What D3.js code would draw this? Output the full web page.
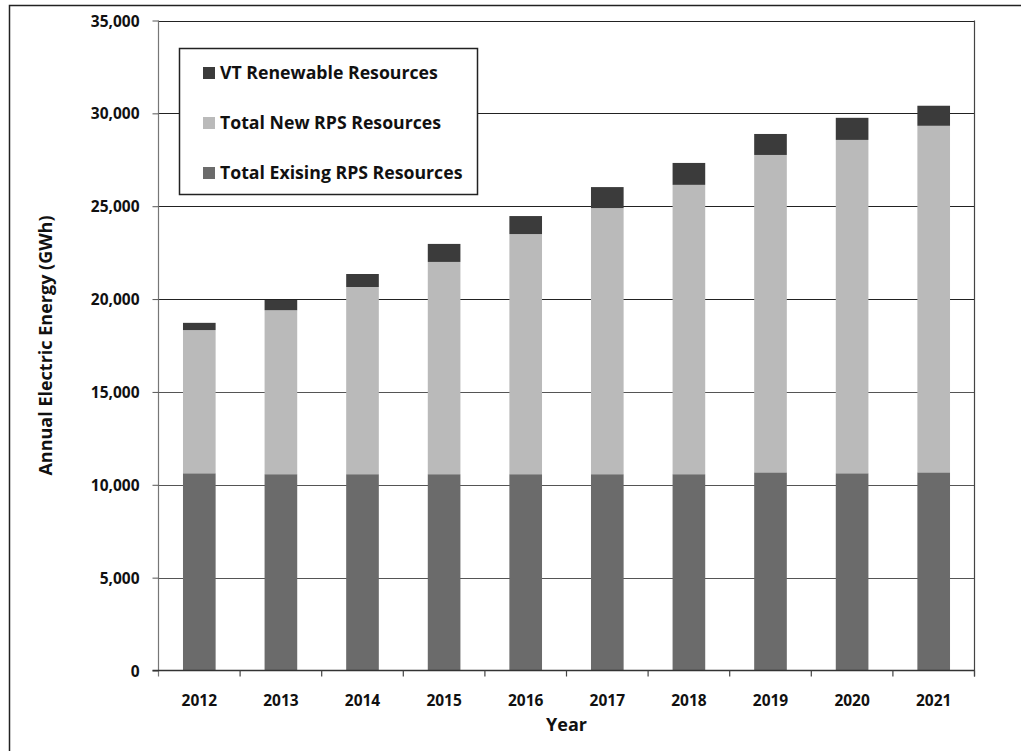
<!DOCTYPE html>
<html>
<head>
<meta charset="utf-8">
<script src="https://cdn.jsdelivr.net/npm/d3@7"></script>
<style>
  html, body { margin: 0; padding: 0; background: #fff; }
  svg { display: block; }
  text { font-family: "Open Sans", "Noto Sans", sans-serif; font-weight: 700; fill: #111; }
</style>
</head>
<body>
<svg id="chart" width="1021" height="751"></svg>
<script>
// Annual RPS energy by year (GWh)
const years = ["2012", "2013", "2014", "2015", "2016", "2017", "2018", "2019", "2020", "2021"];
const existingRps = [10620, 10570, 10570, 10570, 10570, 10570, 10570, 10670, 10620, 10670];
const newRps      = [7710, 8830, 10080, 11430, 12930, 14330, 15580, 17090, 17950, 18660];
const vtRenewable = [390, 550, 700, 970, 970, 1130, 1180, 1130, 1190, 1080];

const yTicks = [0, 5000, 10000, 15000, 20000, 25000, 30000, 35000];

const seriesKeys   = ["existing", "new", "vt"];
const seriesLabels = { vt: "VT Renewable Resources", new: "Total New RPS Resources", existing: "Total Exising RPS Resources" };
const seriesColors = { vt: "#3b3b3b", new: "#bababa", existing: "#6b6b6b" };
const legendOrder  = ["vt", "new", "existing"];

const rows = years.map((yr, i) => ({ year: yr, existing: existingRps[i], new: newRps[i], vt: vtRenewable[i] }));

const svg = d3.select("#chart");

// outer chart frame
svg.append("path")
  .attr("d", "M9.5,751 V5.5 H1021")
  .attr("fill", "none").attr("stroke", "#222").attr("stroke-width", 1.5);

const plot = { left: 158.5, right: 974.5, top: 20.5, bottom: 670.5 };

const x = d3.scaleBand().domain(years).range([plot.left, plot.right]).padding(0);
const y = d3.scaleLinear().domain([0, 35000]).range([plot.bottom, plot.top]);

// horizontal gridlines
svg.append("g").selectAll("line")
  .data(yTicks.filter(t => t > 0))
  .join("line")
  .attr("x1", plot.left).attr("x2", plot.right)
  .attr("y1", d => Math.round(y(d)) + 0.5).attr("y2", d => Math.round(y(d)) + 0.5)
  .attr("stroke", d => d >= 20000 ? "#222" : "#555").attr("stroke-width", 1.2);

// right border of plot area
svg.append("line")
  .attr("x1", plot.right).attr("x2", plot.right)
  .attr("y1", plot.top).attr("y2", plot.bottom + 6)
  .attr("stroke", "#444").attr("stroke-width", 1.2);

// stacked bars
const stacked = d3.stack().keys(seriesKeys)(rows);
const bw = x.bandwidth();
svg.append("g").selectAll("g")
  .data(stacked)
  .join("g")
  .attr("fill", s => seriesColors[s.key])
  .selectAll("rect")
  .data(s => s)
  .join("rect")
  .attr("x", d => x(d.data.year) + bw * 0.3)
  .attr("width", bw * 0.4)
  .attr("y", d => y(d[1]))
  .attr("height", d => y(d[0]) - y(d[1]));

// y axis
const yAxis = svg.append("g")
  .attr("transform", `translate(${plot.left},0)`)
  .call(d3.axisLeft(y).tickValues(yTicks).tickSize(6).tickPadding(13).tickFormat(d3.format(",")));
yAxis.select(".domain").attr("d", `M0,${plot.top}V${plot.bottom + 6}`).attr("stroke", "#777").attr("stroke-width", 1.2);
yAxis.selectAll(".tick line").attr("stroke", "#555");
yAxis.selectAll(".tick text").style("font-size", "15.5px").attr("dy", "0.36em")
  .style("font-family", "'Open Sans', sans-serif").style("font-weight", 700).attr("fill", "#111");

// x axis: labels centred on categories, ticks on category boundaries
const xAxis = svg.append("g")
  .attr("transform", `translate(0,${plot.bottom})`)
  .call(d3.axisBottom(x).tickSize(0).tickPadding(24));
xAxis.select(".domain").attr("d", `M${plot.left - 6},0H${plot.right}`).attr("stroke", "#333").attr("stroke-width", 1.4);
xAxis.selectAll(".tick text").style("font-size", "15.5px")
  .style("font-family", "'Open Sans', sans-serif").style("font-weight", 700).attr("fill", "#111");
xAxis.selectAll("line.boundary")
  .data(years.map(yr => x(yr)).slice(1).concat([plot.right]))
  .join("line").attr("class", "boundary")
  .attr("x1", d => d).attr("x2", d => d).attr("y1", 0).attr("y2", 6)
  .attr("stroke", "#444").attr("stroke-width", 1.2);

// axis titles
svg.append("text")
  .attr("transform", `translate(52,${(plot.top + plot.bottom) / 2}) rotate(-90)`)
  .attr("text-anchor", "middle")
  .style("font-size", "18px")
  .text("Annual Electric Energy (GWh)");

svg.append("text")
  .attr("x", (plot.left + plot.right) / 2)
  .attr("y", 731)
  .attr("text-anchor", "middle")
  .style("font-size", "18px")
  .text("Year");

// legend
const legend = svg.append("g");
legend.append("rect")
  .attr("x", 179.5).attr("y", 48.5).attr("width", 298).attr("height", 146)
  .attr("fill", "#fff").attr("stroke", "#222").attr("stroke-width", 1.5);
const items = legend.selectAll("g.item")
  .data(legendOrder)
  .join("g").attr("class", "item")
  .attr("transform", (d, i) => `translate(203,${73 + i * 50})`);
items.append("rect")
  .attr("x", 0).attr("y", -6).attr("width", 12).attr("height", 12)
  .attr("fill", d => seriesColors[d]);
items.append("text")
  .attr("x", 17).attr("dy", "0.36em")
  .style("font-size", "17.7px")
  .text(d => seriesLabels[d]);
</script>
</body>
</html>
